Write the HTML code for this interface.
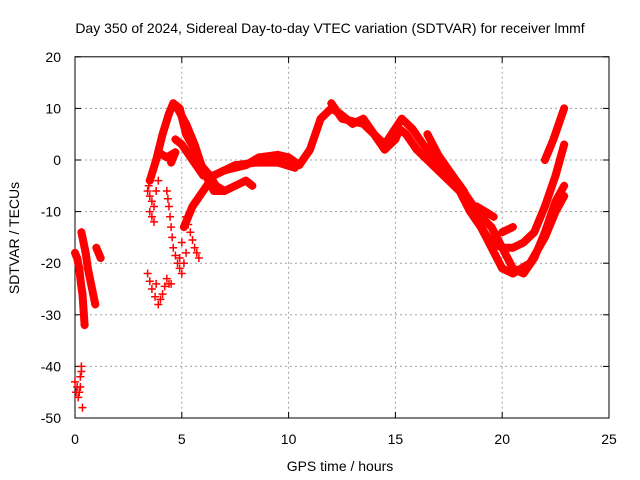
<!DOCTYPE html>
<html><head><meta charset="utf-8"><style>
body{margin:0;background:#fff}
svg{display:block;font-family:"Liberation Sans",sans-serif}
</style></head><body>
<svg id="chart" width="640" height="480" xmlns="http://www.w3.org/2000/svg">
<text x="330" y="33" font-size="14" text-anchor="middle">Day 350 of 2024, Sidereal Day-to-day VTEC variation (SDTVAR) for receiver lmmf</text>
<text x="340" y="471" font-size="14" text-anchor="middle">GPS time / hours</text>
<text x="19" y="238" font-size="14" text-anchor="middle" transform="rotate(-90 19 238)">SDTVAR / TECUs</text>
<g id="grid"></g><g id="axes"></g><g id="marks"></g>
</svg>
<script>
const xTicks=[0,5,10,15,20,25];
const yTicks=[20,10,0,-10,-20,-30,-40,-50];
const trackA=[[0,-18],[0.1,-19],[0.2,-21],[0.28,-24],[0.35,-26],[0.4,-29],[0.45,-32]];
const trackB=[[0.3,-14],[0.4,-16],[0.5,-18],[0.6,-21],[0.7,-23],[0.8,-25],[0.95,-28]];
const trackC=[[1.0,-17],[1.1,-18],[1.2,-19]];
const trackD=[[0,-43],[0.05,-45],[0.15,-46],[0.1,-44],[0.25,-44],[0.3,-41],[0.3,-40],[0.2,-45],[0.35,-48],[0.25,-42]];
const trackE=[[3.5,-4],[3.8,0],[4.1,5],[4.4,9],[4.6,11],[4.9,10],[5.2,5],[5.6,2],[5.9,-1],[6.3,-3],[6.6,-5],[7,-6],[7.5,-5],[8,-4],[8.3,-5]];
const trackF=[[4.8,10],[5.2,7],[5.6,3],[6,-2],[6.5,-6],[7,-6]];
const trackG=[[4.7,4],[5,3],[5.5,0],[6,-3],[6.5,-3],[7,-2],[8,-1],[8.6,0.5],[9.5,1],[10,0.5],[10.5,-1],[11,2],[11.5,8],[12,10],[12.4,9],[13,7],[13.5,8],[14,5],[14.5,2],[15,4],[15.2,6],[15.5,5],[16,2],[16.5,0],[17,-2],[17.5,-4],[18,-6],[18.5,-10],[19,-13],[19.5,-16],[20,-17],[20.5,-17],[21,-16],[21.5,-14],[22,-9],[22.5,-3],[22.9,3]];
const trackH=[[3.9,1.5],[4.3,0.5],[4.7,1.5],[4.5,-0.5]];
const trackI=[[5.1,-13],[5.5,-9],[6,-6],[6.5,-3],[7,-2],[7.5,-1],[8.5,-0.5],[9.5,-0.5],[10.3,-1.5]];
const trackJ=[[12,11],[12.5,8],[13.5,7],[14.5,3],[15.3,8],[15.8,6],[16.3,3],[17,0],[17.5,-2],[18,-5],[18.5,-8],[19,-11],[19.5,-13],[20,-17],[20.5,-21],[21,-22],[21.5,-19],[22,-14],[22.5,-8],[22.9,-5]];
const trackK=[[16.5,5],[17,1],[17.5,-2],[18.2,-6],[19,-13],[19.5,-17],[20,-21],[20.5,-22],[21.3,-20],[22,-15],[22.5,-10],[22.9,-7]];
const trackL=[[22,0],[22.4,4],[22.9,10]];
const trackM=[[20,-14],[20.5,-13]];
const trackN=[[18.8,-9],[19.2,-10],[19.6,-11]];
const trackO=[[3.4,-6],[3.5,-7],[3.6,-8],[3.5,-10],[3.6,-11],[3.7,-12],[3.9,-4],[3.8,-6],[3.7,-9],[3.45,-5]];
const trackP=[[4.3,-6],[4.35,-7.5],[4.4,-9],[4.45,-11],[4.5,-13],[4.55,-15],[4.6,-17],[4.7,-18.5],[4.8,-20],[4.9,-21],[5,-22],[5.1,-20],[5.2,-18],[5.0,-16],[4.9,-19]];
const trackQ=[[5.2,-11],[5.3,-12.5],[5.4,-14],[5.5,-15.5],[5.6,-17],[5.7,-18],[5.8,-19]];
const trackR=[[3.4,-22],[3.5,-23.5],[3.6,-25],[3.75,-26.5],[3.9,-28],[4.0,-27],[4.1,-26],[4.2,-24.5],[4.3,-23],[4.4,-24],[4.5,-24],[3.8,-24]];
const lineTracks=[trackA,trackB,trackC,trackE,trackF,trackG,trackH,trackI,trackJ,trackK,trackL,trackM,trackN];
const scatterTracks=[trackD,trackO,trackP,trackQ,trackR];
const X=h=>75+h*21.36, Y=v=>160-v*5.16;
const NS="http://www.w3.org/2000/svg";
const grid=document.getElementById('grid'),axes=document.getElementById('axes'),marks=document.getElementById('marks');
function mk(tag,attrs,parent){const e=document.createElementNS(NS,tag);for(const k in attrs)e.setAttribute(k,attrs[k]);parent.appendChild(e);return e;}
xTicks.forEach(t=>{
 if(t>0&&t<25){const g=mk('line',{x1:X(t),x2:X(t),y1:Y(20),y2:Y(-50),stroke:'#a0a0a0','stroke-dasharray':'2,3'},grid);
 
 }
 const l=mk('text',{x:X(t),y:444,'font-size':14,'text-anchor':'middle'},axes);l.textContent=t;
 
 
 mk('line',{x1:X(t),x2:X(t),y1:Y(-50),y2:Y(-50)-6,stroke:'#000'},axes);
 mk('line',{x1:X(t),x2:X(t),y1:Y(20),y2:Y(20)+6,stroke:'#000'},axes);
});
yTicks.forEach(t=>{
 if(t<20&&t>-50){const g=mk('line',{x1:X(0),x2:X(25),y1:Y(t),y2:Y(t),stroke:'#a0a0a0','stroke-dasharray':'2,3'},grid);
 
 }
 const l=mk('text',{x:61,y:Y(t)+5,'font-size':14,'text-anchor':'end'},axes);l.textContent=t;
 
 
 mk('line',{x1:X(0),x2:X(0)+6,y1:Y(t),y2:Y(t),stroke:'#000'},axes);
 mk('line',{x1:X(25),x2:X(25)-6,y1:Y(t),y2:Y(t),stroke:'#000'},axes);
});
const fr=mk('rect',{x:X(0),y:Y(20),width:X(25)-X(0),height:Y(-50)-Y(20),fill:'none',stroke:'#000'},axes);


function plus(h,v,g){mk('path',{d:`M${X(h)-4},${Y(v)}h8M${X(h)},${Y(v)-4}v8`,stroke:'#f00','stroke-width':1.5},g);}
lineTracks.forEach(tr=>{
 const g=mk('g',{},marks);
 
 
 mk('polyline',{points:tr.map(p=>X(p[0])+','+Y(p[1])).join(' '),fill:'none',stroke:'#f00','stroke-width':8,'stroke-linejoin':'round','stroke-linecap':'round'},g);
 tr.forEach(p=>plus(p[0],p[1],g));
});
scatterTracks.forEach(tr=>{
 const g=mk('g',{},marks);
 
 
 tr.forEach(p=>plus(p[0],p[1],g));
});
</script>
</body></html>
